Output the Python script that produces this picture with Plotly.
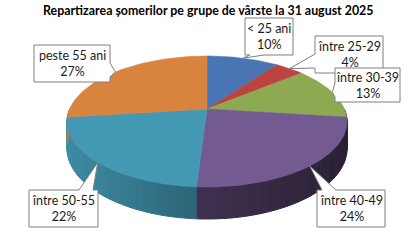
import math
import plotly.graph_objects as go

# ---- data ----
categories = ["< 25 ani", "între 25-29", "între 30-39", "între 40-49", "între 50-55", "peste 55 ani"]
values = [10, 4, 13, 24, 22, 27]
colors = ["#4A75B5", "#BC4440", "#8DAA52", "#735A91", "#4398B3", "#D8833E"]
title = "Repartizarea șomerilor pe grupe de vârste la 31 august 2025"

# ---- geometry / style (pixel space) ----
W, H = 416, 247
CX, CY = 207, 109          # pie centre on top face
RX, RY = 137.4, 63.1       # radii before perspective
K = 0.191                  # perspective factor
DEPTH = 25.9               # wall height before perspective
FONT = "Lato"
# callout boxes (x0, y0, x1, y1) in the order of categories
boxes = [(245, 18, 293, 55), (315, 36, 383, 73), (335, 68, 400, 102),
         (317, 190, 385, 227), (29, 190, 98, 227), (34, 45, 110, 82)]


def top_pt(theta_deg):
    t = math.radians(theta_deg)
    u, v = math.sin(t), math.cos(t)
    s = 1 + K * v
    return CX + RX * u / s, CY - RY * v / s


def depth_at(theta_deg):
    return DEPTH / (1 + K * math.cos(math.radians(theta_deg)))


def shade(hexc, f):
    r, g, b = int(hexc[1:3], 16), int(hexc[3:5], 16), int(hexc[5:7], 16)
    return "rgb(%d,%d,%d)" % (r * f, g * f, b * f)


total = sum(values)
angles = []
acc = 0.0
for v in values:
    a0 = acc / total * 360
    acc += v
    a1 = acc / total * 360
    angles.append((a0, a1))

fig = go.Figure()

# ---- walls (front half only, theta in [90, 270]) ----
for (a0, a1), col in zip(angles, colors):
    lo, hi = max(a0, 90), min(a1, 270)
    if hi <= lo:
        continue
    n = max(1, int(math.ceil((hi - lo) / 2.0)))
    for i in range(n):
        t0 = lo + (hi - lo) * i / n
        t1 = lo + (hi - lo) * (i + 1) / n
        x0, y0 = top_pt(t0)
        x1, y1 = top_pt(t1)
        xm = (x0 + x1) / 2
        f = 0.92 - (xm - 67) / 280 * 0.55
        if col == "#735A91":
            f = min(f, 0.54 - (xm - 207) / 140 * 0.17)
        xs = [x0, x1, x1, x0, x0]
        ys = [y0, y1, y1 + depth_at(t1), y0 + depth_at(t0), y0]
        c = shade(col, f)
        fig.add_trace(go.Scatter(x=xs, y=ys, mode="lines", fill="toself",
                                 fillcolor=c, line=dict(color=c, width=1),
                                 hoverinfo="skip", showlegend=False))

# ---- top faces ----
for (a0, a1), col, name in zip(angles, colors, categories):
    n = max(2, int(math.ceil((a1 - a0) / 1.5)))
    xs, ys = [CX], [CY]
    for i in range(n + 1):
        x, y = top_pt(a0 + (a1 - a0) * i / n)
        xs.append(x)
        ys.append(y)
    xs.append(CX)
    ys.append(CY)
    fig.add_trace(go.Scatter(x=xs, y=ys, mode="lines", fill="toself",
                             fillcolor=col, line=dict(color=col, width=0.6),
                             hoverinfo="skip", showlegend=False, name=name))

# ---- callouts ----
shapes = []
annotations = []
for (a0, a1), name, val, (bx0, by0, bx1, by1) in zip(angles, categories, values, boxes):
    tx, ty = top_pt((a0 + a1) / 2)
    dx = bx0 - tx if tx < bx0 else (tx - bx1 if tx > bx1 else 0)
    dy = by0 - ty if ty < by0 else (ty - by1 if ty > by1 else 0)
    hw = 7
    if dy >= dx:
        bc = min(max(tx, bx0 + 12), bx1 - 12)
        if ty > by1:
            path = (f"M{bx0},{by0} L{bx1},{by0} L{bx1},{by1} L{bc+hw},{by1} "
                    f"L{tx},{ty} L{bc-hw},{by1} L{bx0},{by1} Z")
        else:
            path = (f"M{bx0},{by0} L{bc-hw},{by0} L{tx},{ty} L{bc+hw},{by0} "
                    f"L{bx1},{by0} L{bx1},{by1} L{bx0},{by1} Z")
    else:
        bc = min(max(ty, by0 + 12), by1 - 12)
        if tx < bx0:
            path = (f"M{bx0},{by0} L{bx1},{by0} L{bx1},{by1} L{bx0},{by1} "
                    f"L{bx0},{bc+hw} L{tx},{ty} L{bx0},{bc-hw} Z")
        else:
            path = (f"M{bx0},{by0} L{bx1},{by0} L{bx1},{bc-hw} L{tx},{ty} "
                    f"L{bx1},{bc+hw} L{bx1},{by1} L{bx0},{by1} Z")
    shapes.append(dict(type="path", path=path, xref="x", yref="y",
                       fillcolor="white", line=dict(color="#7F7F7F", width=1),
                       layer="above"))
    pct = round(val / total * 100)
    annotations.append(dict(x=(bx0 + bx1) / 2, y=(by0 + by1) / 2, xref="x", yref="y",
                            text=f"{name}<br>{pct}%", showarrow=False,
                            font=dict(family=FONT, size=12.5, color="#1a1a1a"),
                            align="center", xanchor="center", yanchor="middle"))

annotations.append(dict(x=0.5, y=10, xref="paper", yref="y", text=f"<b>{title}</b>",
                        showarrow=False, font=dict(family=FONT, size=12.4, color="#000000"),
                        xanchor="center", yanchor="middle"))

fig.update_layout(
    width=W, height=H, margin=dict(l=0, r=0, t=0, b=0),
    paper_bgcolor="white", plot_bgcolor="white",
    xaxis=dict(range=[0, W], visible=False, fixedrange=True),
    yaxis=dict(range=[H, 0], visible=False, fixedrange=True),
    shapes=shapes, annotations=annotations, showlegend=False,
)

fig.write_html("out.html")
